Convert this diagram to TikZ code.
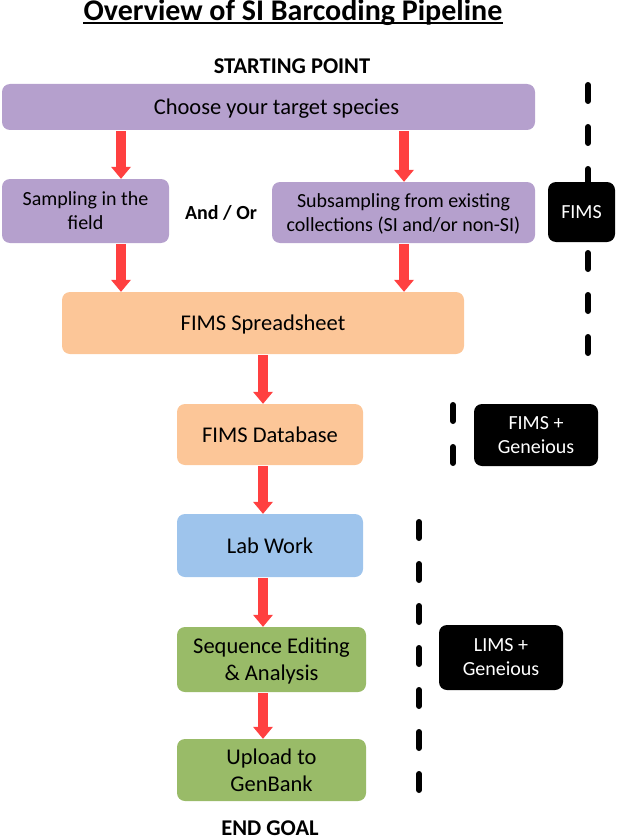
\documentclass[tikz,border=0pt]{standalone}
\usepackage{fontspec}
\setmainfont{Carlito}
\usetikzlibrary{arrows.meta}
\definecolor{speciesColor}{RGB}{181,160,205}
\definecolor{fimsColor}{RGB}{252,198,152}
\definecolor{labColor}{RGB}{158,196,236}
\definecolor{sequenceColor}{RGB}{153,187,104}
\definecolor{arrowColor}{RGB}{255,64,64}
\newcommand{\titleText}{\fontsize{30}{36}\selectfont\bfseries}
\newcommand{\bigText}{\fontsize{22.5}{27}\selectfont}
\newcommand{\smallText}{\fontsize{20}{24}\selectfont}
\tikzstyle{pipeline} = [x = 1pt, y = -1pt]
\tikzstyle{stageStyle} = [rounded corners = 8pt, inner sep = 0pt, align = center, text depth = 0pt, font = \bigText]
\tikzstyle{toolStyle} = [fill = black, text = white, rounded corners = 8pt, inner sep = 0pt, align = center, text depth = 0pt, font = \smallText]
\tikzstyle{flowArrow} = [arrowColor, line width = 10pt, shorten <= 1pt, -{Triangle[width = 20pt, length = 12pt, line width = 0pt]}]
\tikzstyle{toolLine} = [line width = 6pt, line cap = round, dash pattern = on 16pt off 26pt]
\newcommand{\stageBox}[7]{\node [stageStyle, fill = #2, minimum width = #5, minimum height = #6] (#1) at (#3, #4) {#7};}
\newcommand{\toolBox}[6]{\node [toolStyle, minimum width = #4, minimum height = #5] (#1) at (#2, #3) {#6};}
\newcommand{\stageArrow}[3]{\draw [flowArrow] (#1.south -| #3) -- (#2.north -| #3);}
\newcommand{\toolLineDraw}[3]{\draw [toolLine] (#1) -- (#2 -| #1) node [coordinate] (#3) {};}

\begin{document}
\begin{tikzpicture}[pipeline]
\useasboundingbox (0,0) rectangle (617,840);
% lanes for the arrows
\coordinate (leftLane) at (121,0);
\coordinate (rightLane) at (404,0);
\coordinate (mainLane) at (263,0);
% dashed tool lines
\coordinate (fimsLineTop) at (588,85);
\coordinate (fimsLineEnd) at (0,353);
\coordinate (geneiousLineTop) at (453,405);
\coordinate (geneiousLineEnd) at (0,464);
\coordinate (limsLineTop) at (419,522);
\coordinate (limsLineEnd) at (0,790);
\toolLineDraw{fimsLineTop}{fimsLineEnd}{fimsLineBottom}
\toolLineDraw{geneiousLineTop}{geneiousLineEnd}{geneiousLineBottom}
\toolLineDraw{limsLineTop}{limsLineEnd}{limsLineBottom}
% title and labels
\node [font = \titleText, inner sep = 0pt, anchor = base] (title) at (293,21) {Overview of SI Barcoding Pipeline};
\draw [line width = 2pt] ([yshift = -2.5pt]title.base west) -- ([yshift = -2.5pt]title.base east);
\node [font = \bigText\bfseries, inner sep = 0pt] (startLabel) at (292,66) {STARTING POINT};
\node [font = \smallText\bfseries, inner sep = 0pt] (andOr) at (221,213) {And / Or};
\node [font = \bigText\bfseries, inner sep = 0pt] (endLabel) at (270,828) {END GOAL};
% stages
\stageBox{species}{speciesColor}{268.5}{107}{533pt}{46pt}{\hspace*{16pt}Choose your target species}
\node [stageStyle, fill = speciesColor, font = \smallText, minimum width = 167pt, minimum height = 64pt] (field) at (85.5,211) {Sampling in the\\field};
\node [stageStyle, fill = speciesColor, font = \smallText, minimum width = 263pt, minimum height = 61pt] (collections) at (403.5,212.5) {Subsampling from existing\\collections (SI and/or non-SI)};
\stageBox{spreadsheet}{fimsColor}{263}{323}{402pt}{62pt}{FIMS Spreadsheet}
\stageBox{database}{fimsColor}{270}{434.5}{186pt}{61pt}{FIMS Database}
\stageBox{labWork}{labColor}{270}{545.5}{186pt}{63pt}{Lab Work}
\stageBox{editing}{sequenceColor}{271.5}{659.5}{189pt}{65pt}{Sequence Editing\\\& Analysis}
\stageBox{upload}{sequenceColor}{271.5}{770}{189pt}{62pt}{Upload to\\GenBank}
% tools
\toolBox{fims}{581.5}{212}{67pt}{60pt}{FIMS}
\toolBox{fimsGeneious}{536}{435}{124pt}{62pt}{FIMS +\\Geneious}
\toolBox{limsGeneious}{501}{657.5}{124pt}{65pt}{LIMS +\\Geneious}
% arrows
\stageArrow{species}{field}{leftLane}
\stageArrow{species}{collections}{rightLane}
\stageArrow{field}{spreadsheet}{leftLane}
\stageArrow{collections}{spreadsheet}{rightLane}
\stageArrow{spreadsheet}{database}{mainLane}
\stageArrow{database}{labWork}{mainLane}
\stageArrow{labWork}{editing}{mainLane}
\stageArrow{editing}{upload}{mainLane}
\end{tikzpicture}
\end{document}
